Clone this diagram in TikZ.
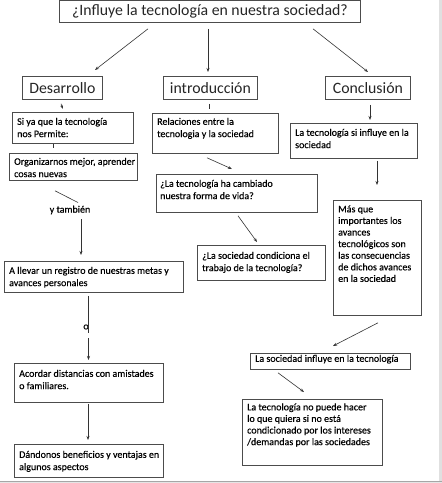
\documentclass[tikz,border=0pt]{standalone}
\usepackage{fontspec}
\setmainfont{Carlito}
\newfontfamily\bodyfont{Carlito}[FakeBold=0.35]
\usetikzlibrary{calc,arrows.meta}
\newcommand\mybox[5]{\node[box,minimum width={(#4-#2)*1pt},minimum height={(#5-#3)*1pt}] (#1) at (#2,#3) {};}
\begin{document}
\begin{tikzpicture}[x=1pt,y=-1pt,
  box/.style={draw=black!70, line width=0.8pt, inner sep=0pt, anchor=north west},
  txt/.style={inner sep=0pt, anchor=north west, align=left, font=\bodyfont\fontsize{10}{12.3}\selectfont, text=black},
  tight/.style={font=\bodyfont\fontsize{10}{11.6}\selectfont},
  head/.style={font=\fontsize{15.8}{18}\selectfont, text=black!85},
  arr/.style={draw=black!80, line width=0.6pt, -{Stealth[length=4pt,width=3pt]}},
  ln/.style={draw=black!80, line width=0.6pt}]
\useasboundingbox (0,0) rectangle (442,483);
\fill[white] (0,0) rectangle (442,483);
% page edge
\fill[black!12] (439,0) rectangle (442,483);
\fill[black!10] (0,481) rectangle (442,483);
\draw[black!35, line width=0.8pt] (0,481) -- (442,481);
% heading boxes
\node[box,head,minimum width=301pt,minimum height=22pt] (title) at (59,0) {¿Influye la tecnología en nuestra sociedad?};
\node[box,head,minimum width=80pt,minimum height=23pt] (des) at (22,76) {Desarrollo};
\node[box,head,minimum width=94pt,minimum height=23pt] (intro) at (163,76) {introducción};
\node[box,head,minimum width=85pt,minimum height=23pt] (concl) at (325,76) {Conclusión};
% body boxes
\mybox{siya}{12}{112}{133}{143}
\mybox{org}{9}{153}{137}{180}
\mybox{allevar}{4}{261}{183}{292}
\mybox{acordar}{14}{363}{163}{402}
\mybox{dandonos}{14}{444}{163}{477}
\mybox{rel}{152}{113}{278}{153}
\mybox{cambiado}{156}{174}{317}{212}
\mybox{condiciona}{197}{245}{325}{280}
\mybox{siinfluye}{290}{123}{417}{158}
\mybox{masque}{333}{200}{421}{315}
\mybox{influye}{250}{353}{410}{369}
\mybox{nopuede}{242}{399}{382}{465}
% texts
\node[txt] (siyat) at ($(siya.north west)+(5,4)$) {\strut Si ya que la tecnología\\nos Permite:};
\node[txt] (orgt) at ($(org.north west)+(5,3)$) {\strut Organizarnos mejor, aprender\\cosas nuevas};
\node[txt] (allevart) at ($(allevar.north west)+(5,4)$) {\strut A llevar un registro de nuestras metas y\\avances personales};
\node[txt] (acordart) at ($(acordar.north west)+(5,5)$) {\strut Acordar distancias con amistades\\o familiares.};
\node[txt] (dandonost) at ($(dandonos.north west)+(5,5)$) {\strut Dándonos beneficios y ventajas en\\algunos aspectos};
\node[txt] (relt) at ($(rel.north west)+(5,3)$) {\strut Relaciones entre la\\tecnologia y la sociedad};
\node[txt] (cambiadot) at ($(cambiado.north west)+(4,4)$) {\strut ¿La tecnología ha cambiado\\nuestra forma de vida?};
\node[txt] (condicionat) at ($(condiciona.north west)+(5,5)$) {\strut ¿La sociedad condiciona el\\trabajo de la tecnología?};
\node[txt] (siinfluyet) at ($(siinfluye.north west)+(5,4)$) {\strut La tecnología si influye en la\\sociedad};
\node[txt,tight] (masquet) at ($(masque.north west)+(5,4)$) {\strut Más que\\importantes los\\avances\\tecnológicos son\\las consecuencias\\de dichos avances\\en la sociedad};
\node[txt] (influyet) at ($(influye.north west)+(5,0)$) {\strut La sociedad influye en la tecnología};
\node[txt,tight] (nopuedet) at ($(nopuede.north west)+(5,3)$) {\strut La tecnología no puede hacer\\lo que quiera si no está\\condicionado por los intereses\\/demandas por las sociedades};
% free labels
\node[txt,anchor=center] (ytambien) at (70,210) {y también};
\node[txt,anchor=center] (o) at (86,327) {o};
\coordinate (o1) at (88.5,333);
\coordinate (o2) at (88.5,338);
% connectors
\draw[arr] ($(title.south west)+(89,6)$) -- ($(des.north west)+(73,-6)$);
\draw[arr] ($(title.south west)+(149,6)$) -- ($(intro.north west)+(45,-4)$);
\draw[arr] ($(title.south west)+(254,6)$) -- ($(concl.north west)+(43,-4)$);
\draw[arr] ($(des.south west)+(39,4)$) -- ($(siya.north west)+(51,-3)$);
\draw[ln] ($(siya.south west)+(41,0)$) -- ($(org.north west)+(44,-5)$);
\draw[ln] ($(org.south west)+(46,10)$) -- ($(ytambien.north)+(8,-3)$);
\draw[arr] ($(ytambien.south)+(11,5)$) -- ($(allevar.north west)+(77,-6)$);
\draw[ln] ($(allevar.south west)+(84.5,3)$) -- (o1);
\draw[arr] (o2) -- ($(acordar.north west)+(74.5,-3)$);
\draw[arr] ($(acordar.south west)+(74,1)$) -- ($(dandonos.north west)+(74,-4)$);
\draw[ln] ($(intro.south west)+(46,4)$) -- ($(rel.north west)+(57,-4)$);
\draw[arr] ($(concl.south west)+(45,5)$) -- ($(siinfluye.north west)+(80,-3)$);
\draw[arr] ($(siinfluye.south west)+(87,2)$) -- ($(masque.north west)+(44,-15)$);
\draw[arr] ($(rel.south west)+(55,4)$) -- ($(cambiado.north west)+(76,-5)$);
\draw[arr] ($(cambiado.south west)+(82,3)$) -- ($(condiciona.north west)+(60,-3)$);
\draw[arr] ($(masque.south west)+(45,7)$) -- ($(influye.north west)+(83,-7)$);
\draw[arr] ($(influye.south west)+(28,3)$) -- ($(nopuede.north west)+(62,-7)$);
\end{tikzpicture}
\end{document}
